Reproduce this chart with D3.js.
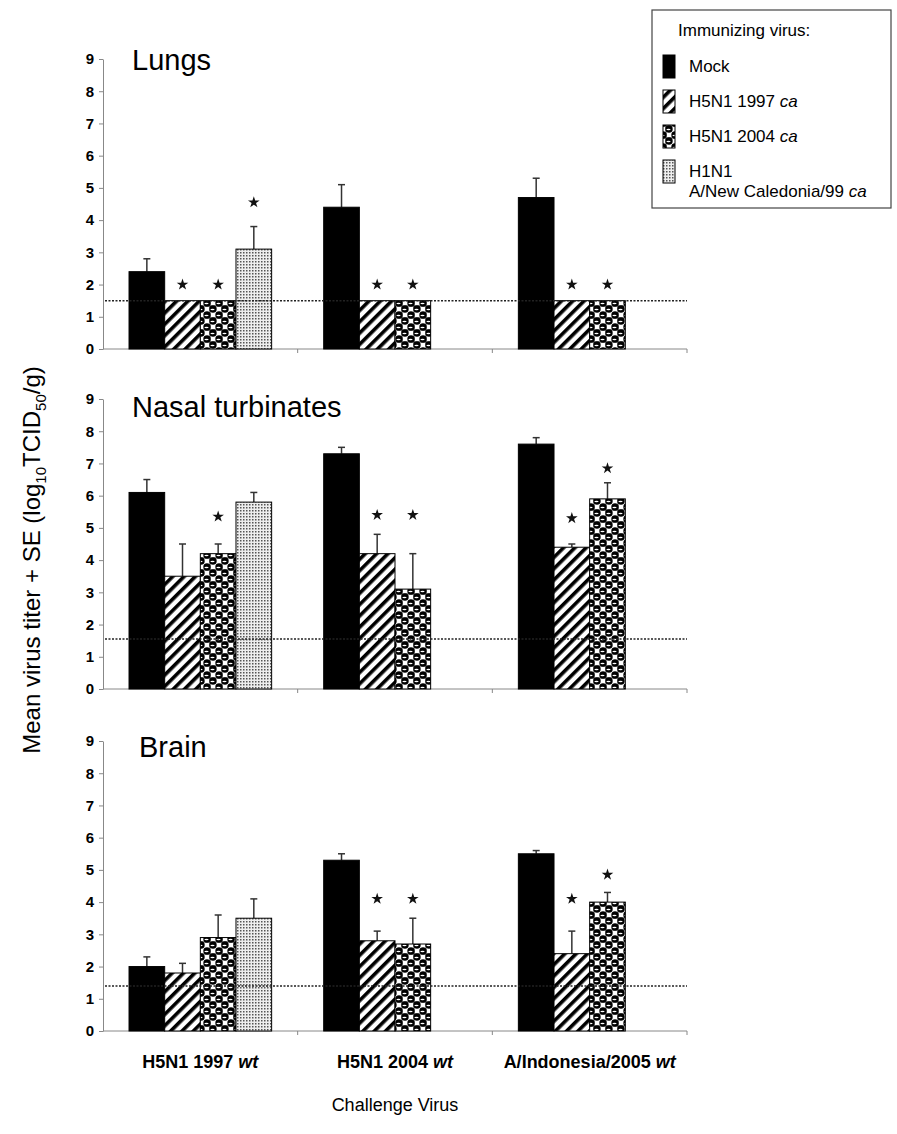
<!DOCTYPE html>
<meta charset="UTF-8">
<html>
<head>
<script src="https://cdn.jsdelivr.net/npm/d3@7"></script>
<style>
  body { margin: 0; background: #fff; }
  svg { font-family: "Liberation Sans", Arial, sans-serif; }
</style>
</head>
<body>
<div id="chart"></div>
<script>
// challenge viruses (x groups) and immunizing viruses (series)
var groups = ["H5N1 1997", "H5N1 2004", "A/Indonesia/2005"];
var series = ["Mock", "H5N1 1997", "H5N1 2004", "H1N1"];
var yTicks = [0, 1, 2, 3, 4, 5, 6, 7, 8, 9];

// mean titers, upper end of SE bar, level of significance star (null = none)
var lungsMean  = [[2.4, 1.5, 1.5, 3.1], [4.4, 1.5, 1.5], [4.7, 1.5, 1.5]];
var lungsUpper = [[2.8, null, null, 3.8], [5.1, null, null], [5.3, null, null]];
var lungsStar  = [[null, 2.0, 2.0, 4.55], [null, 2.0, 2.0], [null, 2.0, 2.0]];

var nasalMean  = [[6.1, 3.5, 4.2, 5.8], [7.3, 4.2, 3.1], [7.6, 4.4, 5.9]];
var nasalUpper = [[6.5, 4.5, 4.5, 6.1], [7.5, 4.8, 4.2], [7.8, 4.5, 6.4]];
var nasalStar  = [[null, null, 5.35, null], [null, 5.4, 5.4], [null, 5.3, 6.85]];

var brainMean  = [[2.0, 1.8, 2.9, 3.5], [5.3, 2.8, 2.7], [5.5, 2.4, 4.0]];
var brainUpper = [[2.3, 2.1, 3.6, 4.1], [5.5, 3.1, 3.5], [5.6, 3.1, 4.3]];
var brainStar  = [[null, null, null, null], [null, 4.1, 4.1], [null, 4.1, 4.85]];

var detectionLimit = [1.5, 1.55, 1.4];

var panels = [
  {title: "Lungs", mean: lungsMean, upper: lungsUpper, star: lungsStar, lod: detectionLimit[0], top: 59, tx: 132, ty: 70},
  {title: "Nasal turbinates", mean: nasalMean, upper: nasalUpper, star: nasalStar, lod: detectionLimit[1], top: 399, tx: 132, ty: 417},
  {title: "Brain", mean: brainMean, upper: brainUpper, star: brainStar, lod: detectionLimit[2], top: 741, tx: 139, ty: 757}
];
var panelH = 290;

var svg = d3.select("#chart").append("svg")
    .attr("width", 897).attr("height", 1134);

// fill patterns
var defs = svg.append("defs");
var hatch = defs.append("pattern").attr("id", "hatch")
    .attr("patternUnits", "userSpaceOnUse").attr("width", 8).attr("height", 8)
    .attr("patternTransform", "rotate(45)");
hatch.append("rect").attr("width", 8).attr("height", 8).attr("fill", "#fff");
hatch.append("rect").attr("width", 3.6).attr("height", 8).attr("fill", "#000");

var balls = defs.append("pattern").attr("id", "balls")
    .attr("patternUnits", "userSpaceOnUse").attr("width", 12).attr("height", 12);
balls.append("rect").attr("width", 12).attr("height", 12).attr("fill", "#fff");
balls.append("path").attr("d", "M0,6H12M6,0V12").attr("stroke", "#000").attr("stroke-width", 0.8);
[[3, 3], [9, 9], [-3, 9], [9, -3], [15, 3], [3, 15]].forEach(function(c) {
  balls.append("circle").attr("cx", c[0]).attr("cy", c[1]).attr("r", 3.7).attr("fill", "#000");
  balls.append("ellipse").attr("cx", c[0] - 0.5).attr("cy", c[1] + 0.5).attr("rx", 2.1).attr("ry", 0.7)
      .attr("fill", "#fff");
});

var stip = defs.append("pattern").attr("id", "stipple")
    .attr("patternUnits", "userSpaceOnUse").attr("width", 3).attr("height", 3);
stip.append("rect").attr("width", 3).attr("height", 3).attr("fill", "#eee");
stip.append("rect").attr("width", 1.5).attr("height", 1.5).attr("fill", "#555");

var fills = ["#000", "url(#hatch)", "url(#balls)", "url(#stipple)"];

var x0 = d3.scaleBand().domain(groups).range([103, 687]);
var x1 = d3.scaleBand().domain(d3.range(series.length))
    .range([0, x0.bandwidth()]).paddingOuter(0.73);

panels.forEach(function(p, pi) {
  var y = d3.scaleLinear().domain([0, 9]).range([p.top + panelH, p.top]);
  var g = svg.append("g");

  // y axis
  var ax = g.append("g").attr("transform", "translate(103,0)")
      .call(d3.axisLeft(y).tickValues(yTicks).tickSize(4).tickSizeOuter(0).tickPadding(5));
  ax.select(".domain").attr("stroke", "#888");
  ax.selectAll(".tick line").attr("stroke", "#888");
  ax.selectAll(".tick text").attr("fill", "#000").style("font-size", "15px")
      .style("font-weight", "bold").style("font-family", "Liberation Sans, Arial, sans-serif");

  // x axis line with group separators
  g.append("line").attr("x1", 103).attr("x2", 687)
      .attr("y1", y(0)).attr("y2", y(0)).attr("stroke", "#888");
  g.selectAll(".sep").data(groups).enter().append("line")
      .attr("x1", function(d) { return x0(d) + x0.bandwidth(); })
      .attr("x2", function(d) { return x0(d) + x0.bandwidth(); })
      .attr("y1", y(0)).attr("y2", y(0) + 4).attr("stroke", "#888");

  // title
  g.append("text").attr("x", p.tx).attr("y", p.ty).text(p.title)
      .style("font-size", "29px");

  // bars
  groups.forEach(function(grp, gi) {
    p.mean[gi].forEach(function(v, si) {
      var bx = x0(grp) + x1(si);
      var cx = bx + x1.bandwidth() / 2;
      var up = p.upper[gi][si];
      if (up != null) {
        g.append("line").attr("x1", cx).attr("x2", cx)
            .attr("y1", y(v)).attr("y2", y(up)).attr("stroke", "#333").attr("stroke-width", 1.5);
        g.append("line").attr("x1", cx - 3.5).attr("x2", cx + 3.5)
            .attr("y1", y(up)).attr("y2", y(up)).attr("stroke", "#333").attr("stroke-width", 1.5);
      }
      g.append("rect").attr("x", bx).attr("width", x1.bandwidth())
          .attr("y", y(v)).attr("height", y(0) - y(v))
          .attr("fill", fills[si]).attr("stroke", "#000").attr("stroke-width", 1);
      var st = p.star[gi][si];
      if (st != null) {
        g.append("path").attr("d", d3.symbol(d3.symbolStar).size(42)())
            .attr("transform", "translate(" + cx + "," + y(st) + ")").attr("fill", "#111");
      }
    });
  });

  // limit of detection
  g.append("line").attr("x1", 105).attr("x2", 687)
      .attr("y1", y(p.lod)).attr("y2", y(p.lod))
      .attr("stroke", "#222").attr("stroke-width", 1.5).attr("stroke-dasharray", "2,1.5");

  if (pi === panels.length - 1) {
    groups.forEach(function(grp) {
      var t = g.append("text").attr("x", x0(grp) + x0.bandwidth() / 2).attr("y", y(0) + 37)
          .attr("text-anchor", "middle").style("font-size", "18px").style("font-weight", "bold");
      t.append("tspan").text(grp + " ");
      t.append("tspan").style("font-style", "italic").text("wt");
    });
  }
});

// axis titles
svg.append("text").attr("x", 395).attr("y", 1111).attr("text-anchor", "middle")
    .style("font-size", "18px").text("Challenge Virus");

var yl = svg.append("text").attr("transform", "translate(40,560) rotate(-90)")
    .attr("text-anchor", "middle").style("font-size", "24px");
yl.append("tspan").text("Mean virus titer + SE (log");
yl.append("tspan").attr("dy", 6).style("font-size", "15px").text("10");
yl.append("tspan").attr("dy", -6).text("TCID");
yl.append("tspan").attr("dy", 6).style("font-size", "15px").text("50");
yl.append("tspan").attr("dy", -6).text("/g)");

// legend
var lg = svg.append("g");
lg.append("rect").attr("x", 652).attr("y", 10).attr("width", 239).attr("height", 198)
    .attr("fill", "#fff").attr("stroke", "#444").attr("stroke-width", 1.2);
lg.append("text").attr("x", 678).attr("y", 36).style("font-size", "17px").text("Immunizing virus:");
var legendRows = [
  {name: "Mock", ital: ""},
  {name: "H5N1 1997 ", ital: "ca"},
  {name: "H5N1 2004 ", ital: "ca"},
  {name: "H1N1", ital: ""}
];
legendRows.forEach(function(r, i) {
  var base = 72 + i * 35;
  lg.append("rect").attr("x", 663).attr("y", base - 17).attr("width", 12).attr("height", 23)
      .attr("fill", fills[i]).attr("stroke", "#000");
  var t = lg.append("text").attr("x", 689).attr("y", base).style("font-size", "17px");
  t.append("tspan").text(r.name);
  if (r.ital) t.append("tspan").style("font-style", "italic").text(r.ital);
});
var t2 = lg.append("text").attr("x", 689).attr("y", 197).style("font-size", "17px");
t2.append("tspan").text("A/New Caledonia/99 ");
t2.append("tspan").style("font-style", "italic").text("ca");
</script>
</body>
</html>
